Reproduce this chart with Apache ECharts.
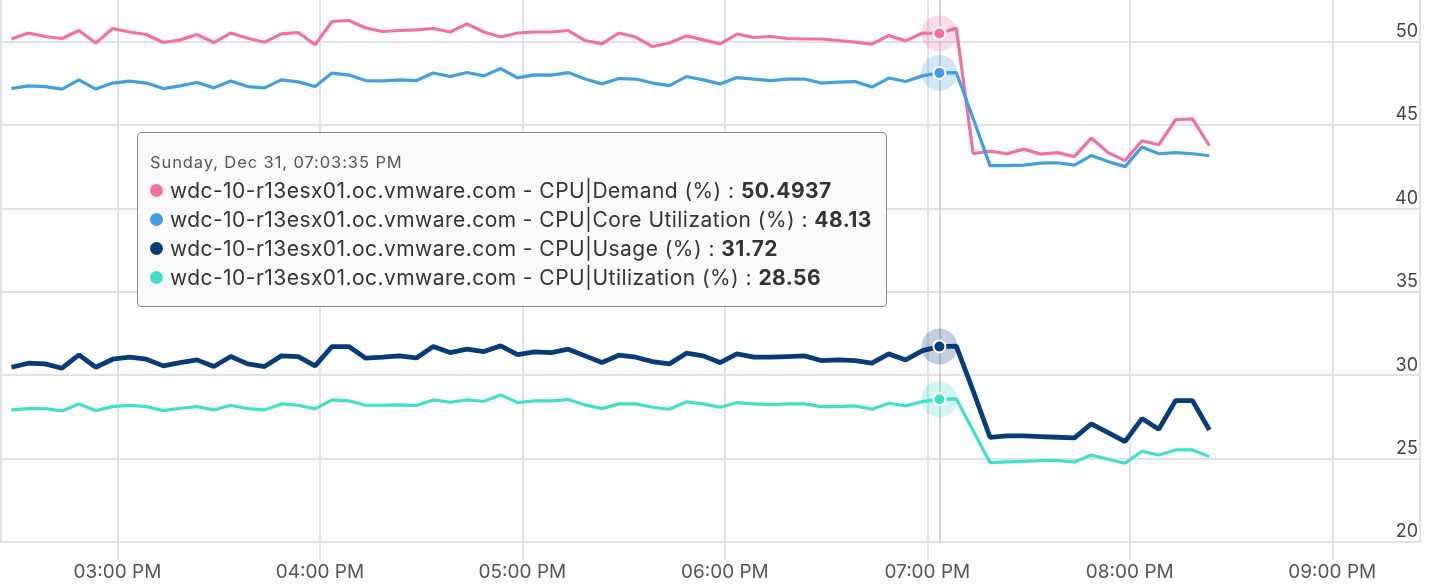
<!DOCTYPE html>
<html lang="en">
  <head>
    <meta charset="UTF-8" />
    <title>CPU metrics</title>
    <script src="https://cdn.jsdelivr.net/npm/echarts@6/dist/echarts.min.js"></script>
    <style>
      html, body { margin: 0; padding: 0; background: #fff; }
      #main { width: 1429px; height: 586px; }
    </style>
  </head>
  <body>
    <div id="main"></div>
    <script type="text/javascript">
      // 5 minute samples, first one at 02:28:35 PM
      const startTime = new Date(2023, 11, 31, 14, 28, 35).getTime();
      const stepMs = 5 * 60 * 1000;
      const hostName = "wdc-10-r13esx01.oc.vmware.com";
      const metricNames = [
        "CPU|Demand (%)",
        "CPU|Core Utilization (%)",
        "CPU|Usage (%)",
        "CPU|Utilization (%)",
      ];
      const colors = ["#f36ea3", "#3f9fe0", "#063c7a", "#3fdfc8"];
      const yTicks = [20, 25, 30, 35, 40, 45, 50];

      const demand = [
        50.16, 50.52, 50.31, 50.19, 50.67, 49.92, 50.79, 50.58, 50.43, 49.95,
        50.11, 50.43, 49.95, 50.52, 50.21, 49.97, 50.47, 50.55, 49.82, 51.21,
        51.27, 50.82, 50.61, 50.67, 50.71, 50.79, 50.58, 51.07, 50.58, 50.28,
        50.52, 50.58, 50.58, 50.67, 50.07, 49.87, 50.52, 50.28, 49.71, 49.92,
        50.35, 50.11, 49.87, 50.46, 50.25, 50.31, 50.19, 50.16, 50.16, 50.07,
        49.97, 49.85, 50.37, 50.05, 50.52, 50.4937, 50.82, 43.28, 43.44, 43.28,
        43.56, 43.26, 43.35, 43.11, 44.22, 43.35, 42.87, 44.06, 43.82, 45.32,
        45.37, 43.76,
      ];
      const coreUtilization = [
        47.19, 47.35, 47.31, 47.16, 47.71, 47.16, 47.52, 47.64, 47.52, 47.19,
        47.35, 47.55, 47.23, 47.64, 47.31, 47.23, 47.71, 47.59, 47.31, 48.12,
        48.0, 47.67, 47.65, 47.71, 47.67, 48.12, 47.91, 48.15, 47.95, 48.39,
        47.83, 48.01, 48.0, 48.15, 47.76, 47.47, 47.79, 47.76, 47.52, 47.37,
        47.91, 47.71, 47.47, 47.85, 47.76, 47.67, 47.76, 47.76, 47.52, 47.58,
        47.61, 47.28, 47.82, 47.61, 47.95, 48.13, 48.15, 45.39, 42.57, 42.57,
        42.6, 42.72, 42.74, 42.6, 43.17, 42.81, 42.51, 43.68, 43.28, 43.35,
        43.28, 43.16,
      ];
      const usage = [
        30.48, 30.72, 30.68, 30.42, 31.22, 30.48, 30.96, 31.08, 30.96, 30.56,
        30.76, 30.92, 30.52, 31.12, 30.68, 30.52, 31.16, 31.12, 30.56, 31.72,
        31.72, 31.02, 31.08, 31.16, 31.04, 31.72, 31.36, 31.56, 31.42, 31.76,
        31.24, 31.4, 31.36, 31.56, 31.16, 30.76, 31.2, 31.08, 30.82, 30.68,
        31.32, 31.16, 30.76, 31.28, 31.08, 31.08, 31.12, 31.16, 30.88, 30.92,
        30.88, 30.72, 31.28, 30.92, 31.48, 31.72, 31.75, 29.06, 26.28, 26.36,
        26.36, 26.32, 26.28, 26.24, 27.08, 26.56, 26.02, 27.4, 26.76, 28.48,
        28.48, 26.72,
      ];
      const utilization = [
        27.92, 28.0, 28.0, 27.86, 28.28, 27.88, 28.12, 28.2, 28.12, 27.88,
        28.02, 28.12, 27.92, 28.2, 28.0, 27.92, 28.28, 28.2, 27.98, 28.52,
        28.46, 28.2, 28.2, 28.22, 28.18, 28.52, 28.38, 28.52, 28.44, 28.82,
        28.36, 28.46, 28.46, 28.54, 28.22, 28.0, 28.28, 28.28, 28.08, 27.96,
        28.4, 28.28, 28.08, 28.36, 28.28, 28.24, 28.28, 28.28, 28.12, 28.12,
        28.16, 27.96, 28.32, 28.16, 28.42, 28.56, 28.58, 26.67, 24.76, 24.8,
        24.84, 24.88, 24.88, 24.8, 25.22, 24.96, 24.72, 25.44, 25.22, 25.52,
        25.52, 25.12,
      ];
      const hoverIndex = 55; // 07:03:35 PM

      const times = demand.map((_, i) => startTime + i * stepMs);
      const seriesValues = [demand, coreUtilization, usage, utilization];
      const lineWidths = [3.2, 3.2, 4.8, 3.2];

      const font = "Inter, 'Noto Sans', sans-serif";
      const gridColor = "#dfe2e6";

      function pad(n) {
        return n < 10 ? "0" + n : "" + n;
      }
      function clock(d, withSec) {
        let h = d.getHours();
        const ap = h >= 12 ? "PM" : "AM";
        h = h % 12;
        if (h === 0) h = 12;
        return (
          pad(h) + ":" + pad(d.getMinutes()) +
          (withSec ? ":" + pad(d.getSeconds()) : "") + " " + ap
        );
      }
      const dayNames = ["Sunday", "Monday", "Tuesday", "Wednesday", "Thursday", "Friday", "Saturday"];
      const monNames = ["Jan", "Feb", "Mar", "Apr", "May", "Jun", "Jul", "Aug", "Sep", "Oct", "Nov", "Dec"];

      function main() {
        var myChart = echarts.init(document.getElementById("main"));
        const series = seriesValues.map(function (vals, k) {
          return {
            name: hostName + " - " + metricNames[k],
            type: "line",
            data: vals.map((v, i) => [times[i], v]),
            symbol: "none",
            showSymbol: false,
            lineStyle: { color: colors[k], width: lineWidths[k] },
            itemStyle: { color: colors[k] },
            emphasis: { disabled: true },
            z: k === 2 ? 3 : 2,
            markPoint: {
              silent: true,
              animation: false,
              label: { show: false },
              data: [
                {
                  coord: [times[hoverIndex], vals[hoverIndex]],
                  symbol: "circle",
                  symbolSize: 36,
                  itemStyle: { color: colors[k], opacity: 0.25 },
                },
                {
                  coord: [times[hoverIndex], vals[hoverIndex]],
                  symbol: "circle",
                  symbolSize: 12,
                  itemStyle: { color: colors[k], borderColor: "#fff", borderWidth: 2 },
                },
              ],
            },
          };
        });

        const option = {
          animation: false,
          textStyle: { fontFamily: font },
          grid: { left: 1, right: 9, top: 0, bottom: 44 },
          tooltip: {
            trigger: "axis",
            alwaysShowContent: true,
            position: [137, 132],
            backgroundColor: "rgba(250,250,250,0.96)",
            borderColor: "#8a8a8a",
            borderWidth: 1,
            borderRadius: 4,
            padding: [14, 14, 14, 12],
            extraCssText: "box-shadow:none;",
            axisPointer: {
              type: "line",
              z: 1,
              lineStyle: { color: "#c8ccd1", width: 1.5, type: "solid" },
              label: { show: false },
            },
            formatter: function (params) {
              const d = new Date(params[0].value[0]);
              let html =
                '<div style="font-family:' + font + ';white-space:nowrap;">' +
                '<div style="font-size:16.5px;letter-spacing:0.9px;color:#555;line-height:20px;margin:5px 0 4px;">' +
                dayNames[d.getDay()] + ", " + monNames[d.getMonth()] + " " + d.getDate() + ", " +
                clock(d, true) + "</div>";
              params.forEach(function (p) {
                html +=
                  '<div style="font-size:21px;letter-spacing:0.45px;line-height:29px;color:#333;">' +
                  '<span style="display:inline-block;width:13px;height:13px;border-radius:7px;background:' +
                  p.color + ';margin-right:7px;vertical-align:1px;"></span>' +
                  p.seriesName + " : <b>" + p.value[1] + "</b></div>";
              });
              return html + "</div>";
            },
          },
          xAxis: {
            type: "time",
            min: new Date(2023, 11, 31, 14, 25, 30).getTime(),
            max: new Date(2023, 11, 31, 21, 26, 0).getTime(),
            minInterval: 3600 * 1000,
            maxInterval: 3600 * 1000,
            axisLine: { show: true, lineStyle: { color: gridColor, width: 2 } },
            axisTick: { show: true, length: 18, lineStyle: { color: gridColor, width: 2 } },
            splitLine: { show: true, lineStyle: { color: gridColor, width: 2 } },
            axisLabel: {
              margin: 21,
              fontSize: 19,
              color: "#555",
              fontFamily: font,
              formatter: function (v) {
                return clock(new Date(v), false);
              },
            },
          },
          yAxis: {
            type: "value",
            position: "right",
            min: yTicks[0],
            max: 52.5,
            interval: 5,
            axisLine: { show: false },
            axisTick: { show: false },
            splitLine: { show: true, showMaxLine: false, lineStyle: { color: gridColor, width: 2 } },
            axisLabel: {
              inside: true,
              margin: 2,
              fontSize: 18,
              color: "#444",
              fontFamily: font,
              verticalAlign: "bottom",
              padding: [0, 0, 1, 0],
              showMaxLabel: false,
              formatter: function (v) {
                return yTicks.indexOf(v) >= 0 ? String(v) : "";
              },
            },
          },
          series: series,
        };
        myChart.setOption(option);
        myChart.dispatchAction({ type: "showTip", seriesIndex: 0, dataIndex: hoverIndex });
      }

      main();
    </script>
  </body>
</html>
